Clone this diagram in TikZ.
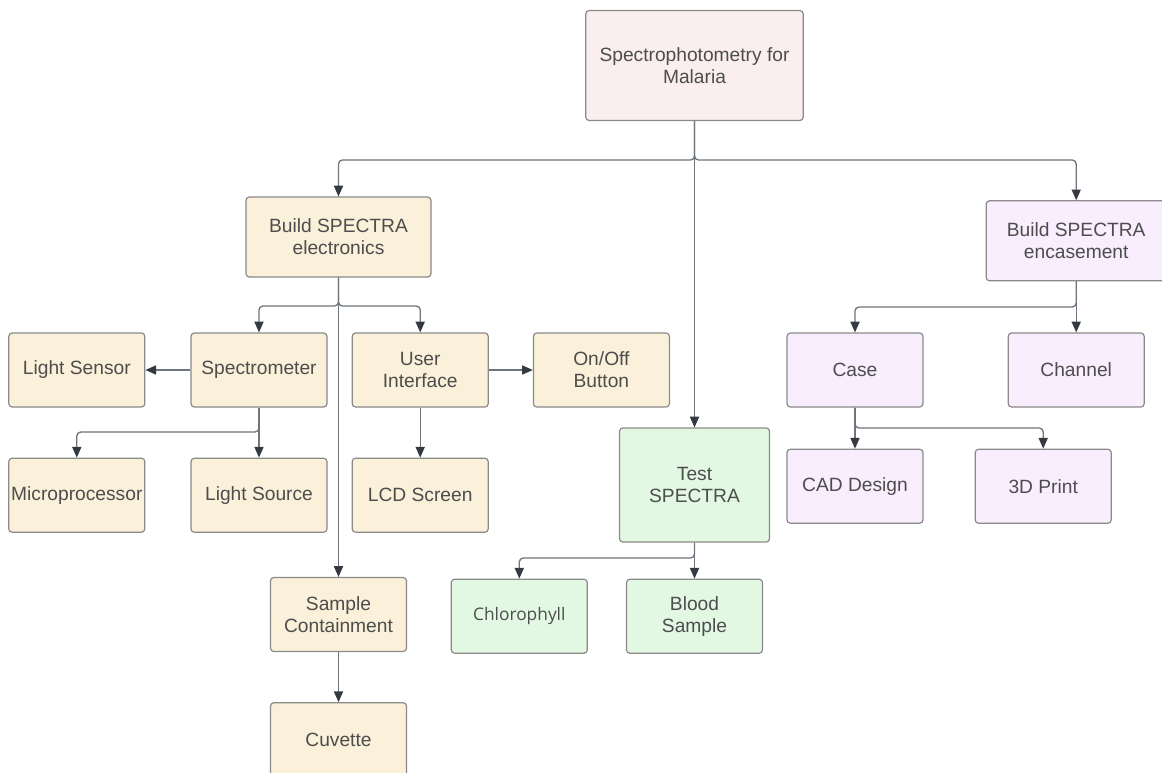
\documentclass[tikz,border=0pt]{standalone}
\usepackage{fontspec}
\setmainfont{Liberation Sans}
\newfontfamily\chlorofont{Open Sans}
\usetikzlibrary{shapes,arrows.meta,positioning}
\definecolor{rootfill}{HTML}{FAEEEE}
\definecolor{elecfill}{HTML}{FBF0DA}
\definecolor{casefill}{HTML}{F8EEFD}
\definecolor{testfill}{HTML}{E2F8E2}
\definecolor{boxline}{HTML}{8A8A8A}
\definecolor{txt}{HTML}{4D4D4D}
\definecolor{wire}{HTML}{6E757C}
\definecolor{tip}{HTML}{343A40}

\begin{document}
\begin{tikzpicture}[x=0.75pt,y=-0.75pt]
  \tikzset{base node/.style={rectangle, draw=boxline, line width=0.9pt,
		rounded corners=2.5pt, text centered, align=center, text=txt,
		font=\fontsize{14.4}{16.5}\selectfont, inner sep=1pt,
		minimum width=102pt, minimum height=55.5pt}, }
\tikzset{root node/.style={base node, fill=rootfill,
		minimum width=163pt, minimum height=82.5pt}, }
\tikzset{elec node/.style={base node, fill=elecfill}, }
\tikzset{case node/.style={base node, fill=casefill}, }
\tikzset{test node/.style={base node, fill=testfill}, }
\tikzset{linea/.style={-{Triangle[length=8pt,width=6.8pt,color=tip]},
		draw=wire, line width=1pt, rounded corners=3pt},}
  \clip (0,0) rectangle (1162,772);
    \node[root node] (root) at (694.5,65.5) {Spectrophotometry for\\Malaria};
    \node[elec node, minimum width=138.75pt, minimum height=60pt] (elec) at (338.5,237) {Build SPECTRA\\electronics};
    \node[elec node] (spectro) at (259,370) {Spectrometer};
    \node[elec node] (sensor) [left=33.75pt of spectro] {Light Sensor};
    \node[elec node] (ui) [right=18pt of spectro] {User\\Interface};
    \node[elec node] (onoff) [right=33pt of ui] {On/Off\\Button};
    \node[elec node] (source) [below=37.5pt of spectro] {Light Source};
    \node[elec node] (micro) [below=37.5pt of sensor] {Microprocessor};
    \node[elec node] (lcd) [below=37.5pt of ui] {LCD Screen};
    \node[elec node] (sample) at (338.5,614.5) {Sample\\Containment};
    \node[elec node] (cuvette) [below=37.5pt of sample] {Cuvette};
   %
    \node[test node, minimum width=112.5pt, minimum height=85.5pt] (test) at (694.5,485) {Test\\SPECTRA};
    \node[test node] (blood) [below=27pt of test] {Blood\\Sample};
    \node[test node, font=\chlorofont\fontsize{13}{15}\selectfont] (chloro) [left=28.5pt of blood] {Chlorophyll};
   %
    \node[case node] (case) at (855,370) {Case};
    \node[case node] (channel) [right=63pt of case] {Channel};
    \node[case node, minimum width=135pt, minimum height=60pt] (enc) [above=38.25pt of channel] {Build SPECTRA\\encasement};
    \node[case node] (cad) [below=30.75pt of case] {CAD Design};
    \node[case node] (print) [right=38.25pt of cad] {3D Print};
%
\foreach \x /\y in {root/test,elec/sample,spectro/source,ui/lcd,sample/cuvette,test/blood,enc/channel,case/cad}
  \draw[linea] (\x.south) -- (\y.north);
\foreach \x /\y /\h in {root/elec/160,root/enc/160,elec/spectro/306,elec/ui/306,spectro/micro/432,test/chloro/558,enc/case/307,case/print/428}
  \draw[linea] (\x.south) |- (\y.north |- 0,\h) -- (\y.north);
\draw[linea] (spectro) -- (sensor);
\draw[linea] (ui) -- (onoff);
%
\end{tikzpicture}
\end{document}
